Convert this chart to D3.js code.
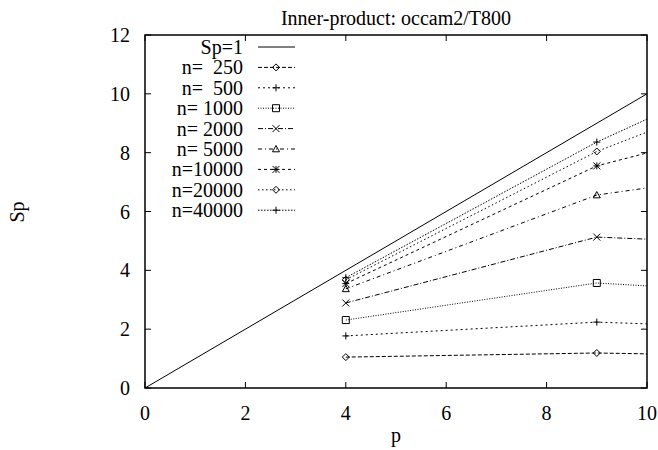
<!DOCTYPE html>
<html>
<head>
<meta charset="utf-8">
<script src="https://cdn.jsdelivr.net/npm/d3@7"></script>
</head>
<body style="margin:0">
<svg id="chart" width="658" height="450"></svg>
<script>
// processors (last point lies beyond the x range and gets clipped)
const pValues = [4, 9, 16];
const idealP = [0, 16];
const idealSp = [0, 16];

const seriesNames = ['n=  250', 'n=  500', 'n= 1000', 'n= 2000', 'n= 5000', 'n=10000', 'n=20000', 'n=40000'];
const sp250 = [1.05, 1.19, 0.98];
const sp500 = [1.77, 2.24, 1.82];
const sp1000 = [2.31, 3.57, 2.87];
const sp2000 = [2.89, 5.13, 4.64];
const sp5000 = [3.37, 6.56, 8.24];
const sp10000 = [3.55, 7.55, 10.63];
const sp20000 = [3.68, 8.04, 12.66];
const sp40000 = [3.75, 8.36, 13.82];

const xTicks = [0, 2, 4, 6, 8, 10];
const yTicks = [0, 2, 4, 6, 8, 10, 12];

const seriesValues = [sp250, sp500, sp1000, sp2000, sp5000, sp10000, sp20000, sp40000];
const markers = ['diamond', 'plus', 'square', 'cross', 'triangle', 'star', 'diamond', 'plus'];
const dashes = ['4,2', '2,3', '1,1.5', '5,2,1,2', '4,3,1,3', '3,3', '1.5,2.5', '1.5,1.5'];

const width = 658, height = 450;
const margin = { top: 35, right: 11, bottom: 62, left: 145 };
const w = width - margin.left - margin.right;
const h = height - margin.top - margin.bottom;
const font = '"Liberation Serif", Tinos, "Times New Roman", Times, FreeSerif, monospace';

const svg = d3.select('#chart');

const x = d3.scaleLinear().domain([0, 10]).range([0, w]);
const y = d3.scaleLinear().domain([0, 12]).range([h, 0]);

const g = svg.append('g').attr('transform', `translate(${margin.left},${margin.top})`);

g.append('clipPath').attr('id', 'clip')
  .append('rect').attr('width', w).attr('height', h);

// marker shapes, drawn around (0,0)
function markerPath(type) {
  const p = d3.path();
  const s = 3.5;
  switch (type) {
    case 'diamond':
      p.moveTo(0, -s); p.lineTo(s, 0); p.lineTo(0, s); p.lineTo(-s, 0); p.closePath();
      break;
    case 'plus':
      p.moveTo(-s, 0); p.lineTo(s, 0); p.moveTo(0, -s); p.lineTo(0, s);
      break;
    case 'square':
      p.rect(-s, -s, 2 * s, 2 * s);
      break;
    case 'cross':
      p.moveTo(-s, -s); p.lineTo(s, s); p.moveTo(-s, s); p.lineTo(s, -s);
      break;
    case 'triangle':
      p.moveTo(0, -s); p.lineTo(s, s * 0.8); p.lineTo(-s, s * 0.8); p.closePath();
      break;
    case 'star':
      p.moveTo(-s, 0); p.lineTo(s, 0); p.moveTo(0, -s); p.lineTo(0, s);
      p.moveTo(-s, -s); p.lineTo(s, s); p.moveTo(-s, s); p.lineTo(s, -s);
      break;
  }
  return p.toString();
}

function label(sel) {
  return sel.attr('font-family', font).style('font-family', font).attr('font-size', 20);
}

// ticks (inward, mirrored)
const tickLen = 6;
const ticks = g.append('g').attr('stroke', '#000').attr('stroke-width', 1);
xTicks.forEach(t => {
  ticks.append('line').attr('x1', x(t)).attr('x2', x(t)).attr('y1', h).attr('y2', h - tickLen);
  ticks.append('line').attr('x1', x(t)).attr('x2', x(t)).attr('y1', 0).attr('y2', tickLen);
});
yTicks.forEach(t => {
  ticks.append('line').attr('x1', 0).attr('x2', tickLen).attr('y1', y(t)).attr('y2', y(t));
  ticks.append('line').attr('x1', w).attr('x2', w - tickLen).attr('y1', y(t)).attr('y2', y(t));
});

// tick labels
xTicks.forEach(t => {
  g.append('text')
    .attr('x', x(t)).attr('y', h + 32)
    .attr('text-anchor', 'middle')
    .call(label)
    .text(t);
});
yTicks.forEach(t => {
  g.append('text')
    .attr('x', -15).attr('y', y(t) + 7)
    .attr('text-anchor', 'end')
    .call(label)
    .text(t);
});

// frame
g.append('rect').attr('width', w).attr('height', h)
  .attr('fill', 'none').attr('stroke', '#000').attr('stroke-width', 1.5);

// ideal speedup
const line = d3.line().x(d => x(d[0])).y(d => y(d[1]));
const plot = g.append('g').attr('clip-path', 'url(#clip)');
plot.append('path')
  .attr('d', line(idealP.map((p, i) => [p, idealSp[i]])))
  .attr('fill', 'none').attr('stroke', '#000').attr('stroke-width', 1);

seriesValues.forEach((vals, k) => {
  const pts = pValues.map((p, i) => [p, vals[i]]);
  plot.append('path')
    .attr('d', line(pts))
    .attr('fill', 'none').attr('stroke', '#000').attr('stroke-width', 1)
    .attr('stroke-dasharray', dashes[k]);
  plot.selectAll(null).data(pts).join('path')
    .attr('transform', d => `translate(${x(d[0])},${y(d[1])})`)
    .attr('d', markerPath(markers[k]))
    .attr('fill', 'none').attr('stroke', '#000').attr('stroke-width', 1);
});

// legend
const legendNames = ['Sp=1'].concat(seriesNames);
legendNames.forEach((name, i) => {
  const ly = 47 + i * 20.4;
  svg.append('text')
    .attr('x', 243).attr('y', ly + 7)
    .attr('text-anchor', 'end')
    .call(label)
    .style('white-space', 'pre')
    .text(name);
  svg.append('line')
    .attr('x1', 258).attr('x2', 295).attr('y1', ly).attr('y2', ly)
    .attr('stroke', '#000').attr('stroke-width', 1)
    .attr('stroke-dasharray', i === 0 ? null : dashes[i - 1]);
  if (i > 0) {
    svg.append('path')
      .attr('transform', `translate(276,${ly})`)
      .attr('d', markerPath(markers[i - 1]))
      .attr('fill', 'none').attr('stroke', '#000').attr('stroke-width', 1);
  }
});

// titles
svg.append('text')
  .attr('x', margin.left + w / 2).attr('y', 25)
  .attr('text-anchor', 'middle')
  .call(label)
  .text('Inner-product: occam2/T800');

svg.append('text')
  .attr('x', margin.left + w / 2).attr('y', 442)
  .attr('text-anchor', 'middle')
  .call(label)
  .text('p');

svg.append('text')
  .attr('transform', 'translate(24,212) rotate(-90)')
  .attr('text-anchor', 'middle')
  .call(label)
  .text('Sp');
</script>
</body>
</html>
